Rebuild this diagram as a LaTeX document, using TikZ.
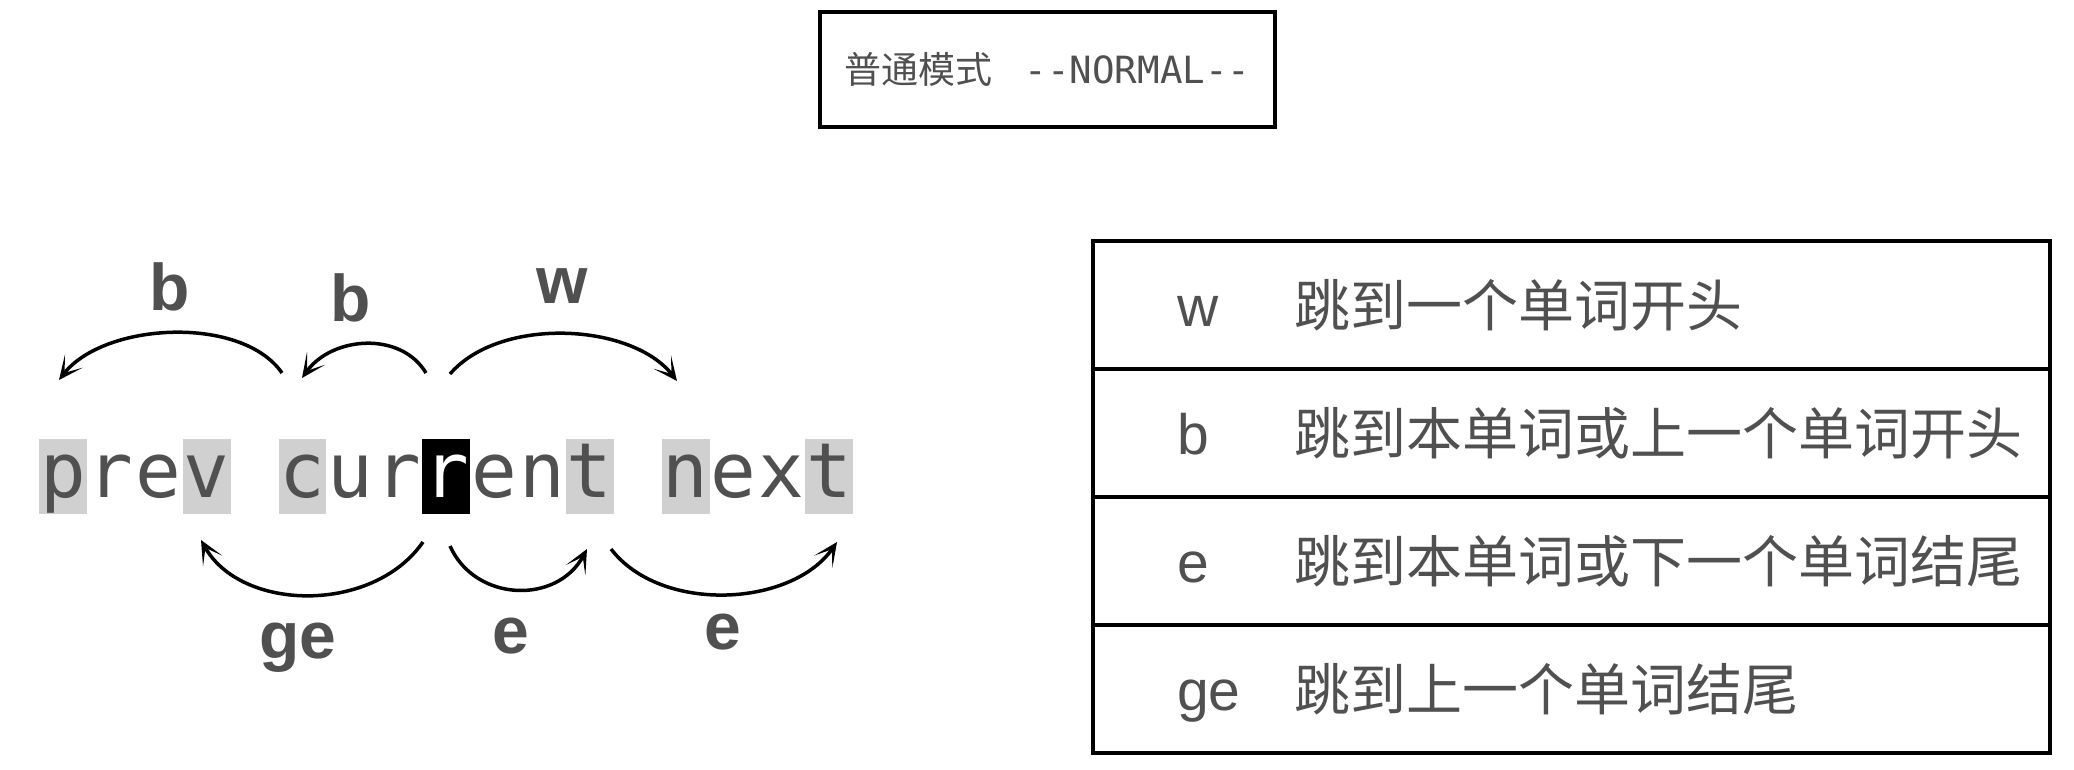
\documentclass[tikz,border=0pt]{standalone}
\usepackage{fontspec}
\setmainfont{Liberation Sans}
\newfontfamily\monof{DejaVu Sans Mono}
\newfontfamily\cjkf{Noto Sans CJK SC}
\newfontfamily\labf{Liberation Sans}
\usetikzlibrary{arrows.meta}
\definecolor{txt}{HTML}{505050}
\definecolor{hlgray}{HTML}{D0D0D0}
\begin{document}
\begin{tikzpicture}[x=1pt,y=-1pt,
  chr/.style={font=\monof\fontsize{76}{80}\selectfont, text=txt, inner sep=0pt, minimum width=47.9pt, text height=58pt, text depth=17pt, anchor=base},
  hl/.style={chr, fill=hlgray},
  cur/.style={chr, fill=black, text=white},
  arr/.style={line width=3.5pt, -{Stealth[length=24pt,width=22pt,inset=15pt]}},
  lbl/.style={font=\labf\bfseries\fontsize{66}{70}\selectfont, text=txt, inner sep=0pt},
  rowbox/.style={draw, line width=3.5pt, minimum width=957pt, minimum height=128pt, inner sep=0pt},
  keyt/.style={font=\labf\fontsize{57}{60}\selectfont, text=txt, anchor=base west, inner sep=0pt},
  desct/.style={font=\cjkf\fontsize{56}{60}\selectfont, text=txt, anchor=base west, inner sep=0pt},
  modebox/.style={draw, line width=3.5pt, minimum width=455pt, minimum height=115pt, inner sep=0pt, text=txt}
]
\fill[white] (0,0) rectangle (2074,770);
\useasboundingbox (0,0) rectangle (2074,770);

% mode box
\node[modebox] (mode) at (1047.5,69.5) {{\cjkf\fontsize{37}{40}\selectfont 普通模式}\hspace{32pt}{\monof\fontsize{37.5}{40}\selectfont -{}-NORMAL-{}-}};

% characters
\node[hl] (c0) at (62.95,497) {p};
\node[chr] (c1) at (110.85,497) {r};
\node[chr] (c2) at (158.75,497) {e};
\node[hl] (c3) at (206.65,497) {v};
\node[hl] (c5) at (302.45,497) {c};
\node[chr] (c6) at (350.35,497) {u};
\node[chr] (c7) at (398.25,497) {r};
\node[cur] (c8) at (446.15,497) {r};
\node[chr] (c9) at (494.05,497) {e};
\node[chr] (c10) at (541.95,497) {n};
\node[hl] (c11) at (589.85,497) {t};
\node[hl] (c13) at (685.65,497) {n};
\node[chr] (c14) at (733.55,497) {e};
\node[chr] (c15) at (781.45,497) {x};
\node[hl] (c16) at (829.35,497) {t};

% arrow ends
\coordinate (a1s) at (282,373); \coordinate (a1e) at (59,380);
\coordinate (a2s) at (426,373); \coordinate (a2e) at (302,378);
\coordinate (a3s) at (450,374); \coordinate (a3e) at (677,381);
\coordinate (a4s) at (423,542); \coordinate (a4e) at (201,540);
\coordinate (a5s) at (450,546); \coordinate (a5e) at (587,549);
\coordinate (a6s) at (611,549); \coordinate (a6e) at (837,542);

\draw[arr] (a1s) .. controls +(-40,-58) and +(45,-58) .. (a1e);
\draw[arr] (a2s) .. controls +(-25,-42) and +(30,-42) .. (a2e);
\draw[arr] (a3s) .. controls +(50,-58) and +(-45,-58) .. (a3e);
\draw[arr] (a4s) .. controls +(-50,72) and +(40,72) .. (a4e);
\draw[arr] (a5s) .. controls +(25,56) and +(-30,56) .. (a5e);
\draw[arr] (a6s) .. controls +(50,65) and +(-45,65) .. (a6e);

\node[lbl] (lb1) at (170,287) {b};
\node[lbl] (lb2) at (351,298) {b};
\node[lbl] (lw) at (562,286) {w};
\node[lbl] (lge) at (298,648) {ge};
\node[lbl] (le1) at (511,636) {e};
\node[lbl] (le2) at (723,632) {e};

% table
\node[rowbox] (r1) at (1571.5,305) {};
\node[rowbox] (r2) at (1571.5,433) {};
\node[rowbox] (r3) at (1571.5,561) {};
\node[rowbox] (r4) at (1571.5,689) {};
\node[keyt] (k1) at (1177,326) {w};
\node[desct] (d1) at (1294,326) {跳到一个单词开头};
\node[keyt] (k2) at (1177,454) {b};
\node[desct] (d2) at (1294,454) {跳到本单词或上一个单词开头};
\node[keyt] (k3) at (1177,582) {e};
\node[desct] (d3) at (1294,582) {跳到本单词或下一个单词结尾};
\node[keyt] (k4) at (1177,710) {ge};
\node[desct] (d4) at (1294,710) {跳到上一个单词结尾};
\end{tikzpicture}
\end{document}
